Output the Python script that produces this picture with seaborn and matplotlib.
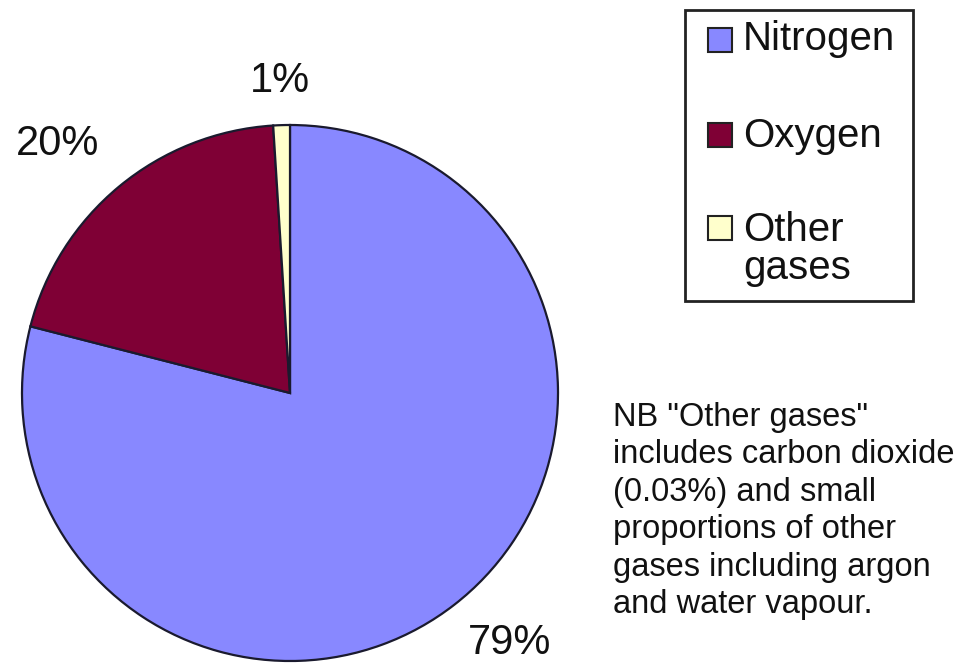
import numpy as np
import matplotlib
matplotlib.use("Agg")
import matplotlib.pyplot as plt
from matplotlib.patches import Rectangle
import seaborn as sns

# Composition of dry air (%)
gases = ["Nitrogen", "Oxygen", "Other\ngases"]
shares = [79, 20, 1]
colours = ["#8888FF", "#7F0035", "#FFFFCC"]
# how far out each percentage label sits (in pie radii)
label_dist = [1.24, 1.27, 1.165]
note = ('NB "Other gases"\nincludes carbon dioxide\n(0.03%) and small\n'
        'proportions of other\ngases including argon\nand water vapour.')

sns.set_theme(style="white")
plt.rcParams["font.family"] = ["Liberation Sans", "DejaVu Sans"]

W, H = 976, 665
fig = plt.figure(figsize=(W / 100, H / 100), dpi=100)
fig.patch.set_facecolor("white")


def fx(px):
    return px / W


def fy(py):
    return 1 - py / H


# pie: centre (290, 393) px, radius 268 px
cx, cy, r = 290, 393, 268
ax = fig.add_axes([fx(cx - r), fy(cy + r), 2 * r / W, 2 * r / H])
wedges, _ = ax.pie(shares, colors=colours, startangle=90, counterclock=False,
                   wedgeprops=dict(edgecolor="#1a1a2e", linewidth=1.6))
ax.set_xlim(-1, 1)
ax.set_ylim(-1, 1)
ax.set_aspect("auto")
ax.axis("off")

for w, v, d in zip(wedges, shares, label_dist):
    mid = np.deg2rad((w.theta1 + w.theta2) / 2)
    # nudge the two large labels slightly upwards
    if v > 5:
        mid += np.deg2rad(3.5)
    ax.text(d * np.cos(mid), d * np.sin(mid), f"{v}%", ha="center",
            va="center", fontsize=30, color="#111111", clip_on=False)

# legend box drawn in figure pixels
fig.add_artist(Rectangle((fx(685), fy(301)), fx(913) - fx(685), fy(10) - fy(301),
                         transform=fig.transFigure, fill=False,
                         edgecolor="#222222", linewidth=2))
key_y = [40, 135, 228]
# baseline of the last line of each legend label
text_base = [50, 147, 279]
for name, col, ky, tb in zip(gases, colours, key_y, text_base):
    s = 24
    fig.add_artist(Rectangle((fx(708), fy(ky + s / 2)), s / W, s / H,
                             transform=fig.transFigure, facecolor=col,
                             edgecolor="#222222", linewidth=1.5))
    fig.text(fx(743), fy(tb), name, ha="left", va="baseline",
             fontsize=29, color="#111111", linespacing=1.0)

# side note; anchored on the baseline of its last line
fig.text(fx(613), fy(613), note, ha="left", va="baseline", fontsize=23.5,
         color="#111111", linespacing=1.27)

fig.savefig("out.png", dpi=100, facecolor="white")
